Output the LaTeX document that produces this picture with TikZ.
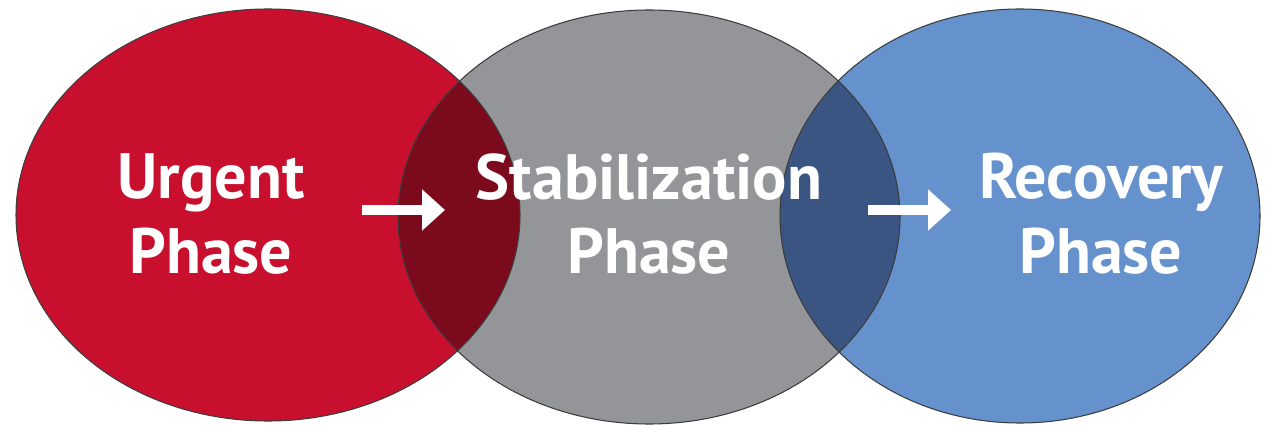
\documentclass[tikz,border=0pt]{standalone}
\usepackage{fontspec}
\setmainfont{PT Sans}
\usetikzlibrary{arrows.meta}
\definecolor{urgentred}{HTML}{C8102E}
\definecolor{stabgray}{HTML}{939598}
\definecolor{recblue}{HTML}{6592CD}
\definecolor{overred}{HTML}{7B0A1C}
\definecolor{overblue}{HTML}{3A5581}
\definecolor{rimgray}{HTML}{3C3C3C}
\begin{document}
\begin{tikzpicture}[x=0.02cm, y=-0.02cm,
		phase/.style={align=center, inner sep=0pt, text=white,
			font=\bfseries\fontsize{36.5}{42.5}\selectfont},
		rim/.style={draw=rimgray, line width=0.6pt},
		step arrow/.style={draw=white, line width=0.19cm,
			-{Triangle[length=0.46cm, width=0.8cm]}}]
	\useasboundingbox (0,0) rectangle (1271,425);
	% the three phases as overlapping ellipses
	\fill[urgentred] (268,215) ellipse [x radius=252, y radius=206];
	\fill[stabgray]  (649,217) ellipse [x radius=251, y radius=207];
	\fill[recblue]   (1020,216) ellipse [x radius=240, y radius=207];
	% darker overlaps
	\begin{scope}
		\clip (268,215) ellipse [x radius=252, y radius=206];
		\fill[overred] (649,217) ellipse [x radius=251, y radius=207];
	\end{scope}
	\begin{scope}
		\clip (649,217) ellipse [x radius=251, y radius=207];
		\fill[overblue] (1020,216) ellipse [x radius=240, y radius=207];
	\end{scope}
	% outlines
	\draw[rim] (268,215) ellipse [x radius=252, y radius=206];
	\draw[rim] (649,217) ellipse [x radius=251, y radius=207];
	\draw[rim] (1020,216) ellipse [x radius=240, y radius=207];
	% labels
	\node[phase] (urgent)   at (211,214)  {Urgent\\Phase};
	\node[phase] (stab)     at (649,214)  {Stabilization\\Phase};
	\node[phase] (recovery) at (1101,214) {Recovery\\Phase};
	% arrows between phases
	\coordinate (a1s) at (362,210);
	\coordinate (a1e) at (445,210);
	\coordinate (a2s) at (868,210);
	\coordinate (a2e) at (951,210);
	\draw[step arrow] (a1s) -- (a1e);
	\draw[step arrow] (a2s) -- (a2e);
\end{tikzpicture}
\end{document}
